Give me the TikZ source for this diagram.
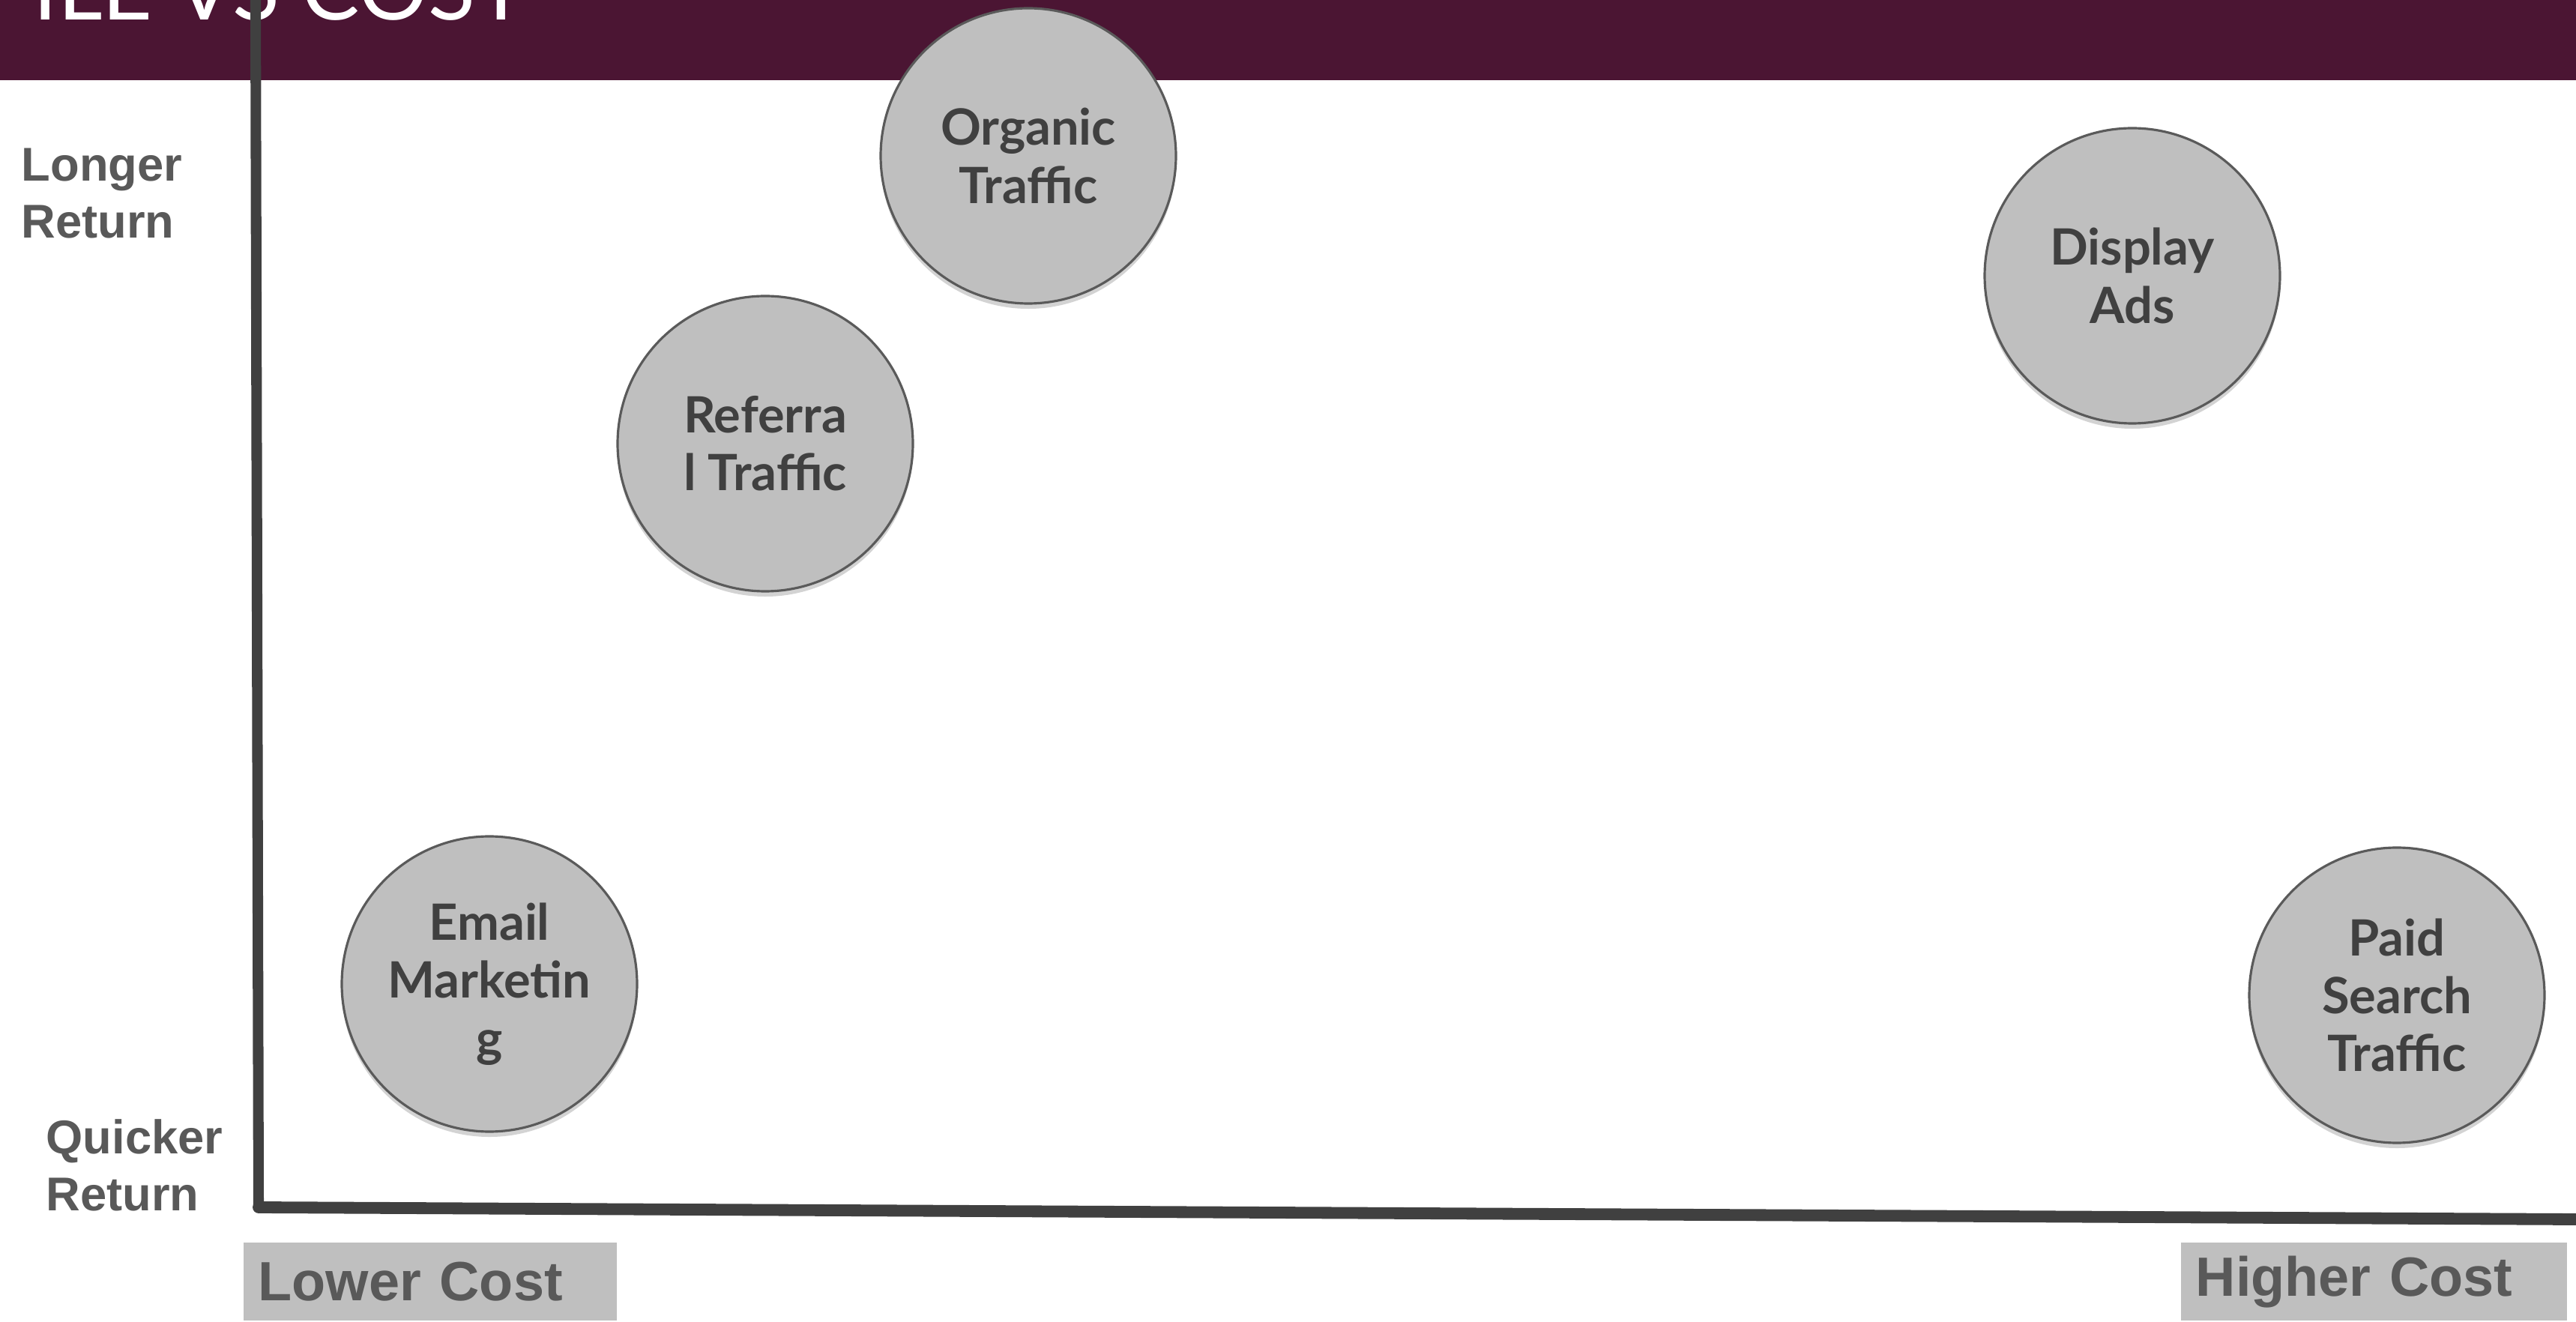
\documentclass[tikz,border=0pt]{standalone}
\usepackage{fontspec}
\setmainfont{Liberation Sans}
\newfontfamily\gillfont{Lato}
\usepackage{xcolor}
\usepackage{tikz}
\usetikzlibrary{shadows,positioning}
\definecolor{titlebar}{HTML}{4B1533}
\definecolor{axisgray}{HTML}{404040}
\definecolor{circfill}{HTML}{BFBFBF}
\definecolor{circedge}{HTML}{5A5A5A}
\definecolor{circtext}{HTML}{404040}
\definecolor{lbltext}{HTML}{595959}

\begin{document}
\begin{tikzpicture}[
    channel/.style={circle, draw=circedge, line width=0.9pt, fill=circfill, minimum size=3.94cm, inner sep=0pt, align=center, text=circtext, font=\gillfont\bfseries\fontsize{19}{22}\selectfont, drop shadow={shadow xshift=0pt, shadow yshift=-2pt, opacity=0.35}},
    returnlbl/.style={anchor=west, align=left, text=lbltext, font=\bfseries\fontsize{18}{21.5}\selectfont, inner sep=0pt},
    costbox/.style={anchor=south west, fill=circfill, text=lbltext, font=\bfseries\fontsize{21}{24}\selectfont, align=left, minimum height=1.04cm, inner xsep=0.2cm, inner ysep=0pt},
    axisline/.style={draw=axisgray, line cap=round}
]
    \useasboundingbox (0,0) rectangle (34.37,17.63);

    % Title bar
    \fill[titlebar] (0,16.56) rectangle (34.37,17.63);
    \node[anchor=base west, text=white, inner sep=0pt, font=\gillfont\fontsize{33}{36}\selectfont] (title) at (0.44,17.36) {ILE VS COST};

    % Axes
    \coordinate (ytop) at (3.41,17.63);
    \coordinate (origin) at (3.45,1.52);
    \coordinate (xend) at (34.37,1.36);
    \draw[axisline, line width=4pt] (ytop) -- (origin);
    \draw[axisline, line width=4.5pt] (origin) -- (xend);

    % Axis labels
    \node[returnlbl] (longer) at (0.28,15.05) {Longer\\Return};
    \node[returnlbl] (quicker) at (0.61,2.08) {Quicker\\Return};
    \node[costbox, text width=4.58cm] (lower) at (3.24,0) {Lower Cost};
    \node[costbox, text width=4.75cm] (higher) at (29.09,0) {Higher Cost};

    % Channels
    \node[channel] (organic) at (13.72,15.55) {Organic\\Traffic};
    \node[channel] (display) at (28.45,13.95) {Display\\Ads};
    \node[channel] (referral) at (10.21,11.71) {Referra\\l Traffic};
    \node[channel] (email) at (6.53,4.50) {Email\\Marketin\\g};
    \node[channel] (paid) at (31.98,4.35) {Paid\\Search\\Traffic};

\end{tikzpicture}
\end{document}
